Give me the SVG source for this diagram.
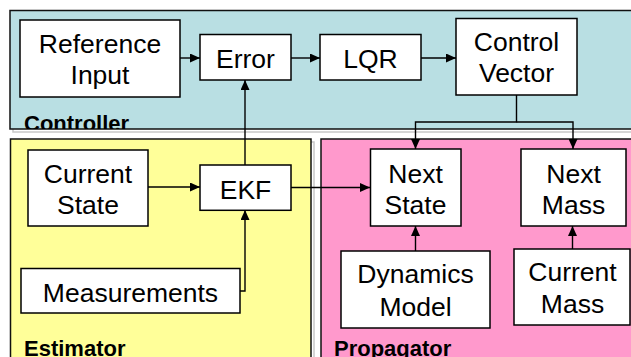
<svg xmlns="http://www.w3.org/2000/svg" width="631" height="357" viewBox="0 0 631 357">
<style>
.box{fill:#fff;stroke:#000;stroke-width:1.5}
.t{font-family:"Liberation Sans",Arial,sans-serif;font-size:26.5px;fill:#000;text-anchor:middle}
.lbl{font-family:"Liberation Sans",Arial,sans-serif;font-size:22px;font-weight:bold;fill:#000}
.panel{stroke:#111;stroke-width:1.5}
.shadow{fill:none;stroke:#c8c8c8;stroke-width:1.5}
.c{fill:none;stroke:#000;stroke-width:1.4}
</style>
<defs>
<marker id="ah" markerUnits="userSpaceOnUse" markerWidth="10" markerHeight="9" refX="10" refY="4.5" orient="auto">
<path d="M0,0 L10,4.5 L0,9 z" fill="#000"/>
</marker>
<clipPath id="clipCtrl"><rect x="0" y="0" width="631" height="129"/></clipPath>
</defs>
<rect width="631" height="357" fill="#fff"/>
<g id="panels">
<rect class="shadow" x="13" y="13" width="640" height="119"/>
<rect class="shadow" x="13.5" y="142" width="300.5" height="230"/>
<rect class="shadow" x="324" y="142" width="330" height="230"/>
<rect id="controller" class="panel" x="10" y="10.5" width="640" height="118.5" fill="#B9DFE3"/>
<rect id="estimator" class="panel" x="10.5" y="139" width="300.5" height="230" fill="#FFFF99"/>
<rect id="propagator" class="panel" x="321" y="139" width="330" height="230" fill="#FF99CC"/>
<text class="lbl" x="24" y="130.5" clip-path="url(#clipCtrl)">Controller</text>
<text class="lbl" x="24" y="356">Estimator</text>
<text class="lbl" x="334" y="355.5">Propagator</text>
</g>
<g id="connectors">
<path class="c" d="M180,58 H200" marker-end="url(#ah)"/>
<path class="c" d="M291,58 H320" marker-end="url(#ah)"/>
<path class="c" d="M421,58 H456" marker-end="url(#ah)"/>
<path class="c" d="M245,165 V80" marker-end="url(#ah)"/>
<path class="c" d="M240,291 H245 V210" marker-end="url(#ah)"/>
<path class="c" d="M148,187 H200" marker-end="url(#ah)"/>
<path class="c" d="M291,187.5 H370" marker-end="url(#ah)"/>
<path class="c" d="M516.5,95 V122 H415.5 V149" marker-end="url(#ah)"/>
<path class="c" d="M516.5,122 H573 V149" marker-end="url(#ah)"/>
<path class="c" d="M415.5,251 V226" marker-end="url(#ah)"/>
<path class="c" d="M572.5,249 V226" marker-end="url(#ah)"/>
</g>
<g id="reference-input"><rect class="box" x="20" y="20" width="160" height="77"/><text class="t" x="100" y="52.7">Reference</text><text class="t" x="100" y="84">Input</text></g>
<g id="error"><rect class="box" x="200" y="34.5" width="91" height="45.5"/><text class="t" x="245.5" y="67.5">Error</text></g>
<g id="lqr"><rect class="box" x="320" y="34.5" width="101" height="45.5"/><text class="t" x="370.5" y="67.5">LQR</text></g>
<g id="control-vector"><rect class="box" x="456" y="18.5" width="121" height="76.5"/><text class="t" x="516.5" y="50.7">Control</text><text class="t" x="516.5" y="81.7">Vector</text></g>
<g id="current-state"><rect class="box" x="28" y="150" width="120" height="76"/><text class="t" x="88" y="182.5">Current</text><text class="t" x="88" y="213.5">State</text></g>
<g id="ekf"><rect class="box" x="200" y="165" width="91" height="45.3"/><text class="t" x="245.5" y="198.8">EKF</text></g>
<g id="measurements"><rect class="box" x="21" y="268.5" width="219" height="44.5"/><text class="t" x="130.5" y="301.7">Measurements</text></g>
<g id="next-state"><rect class="box" x="370.5" y="149" width="90.5" height="77"/><text class="t" x="415.5" y="182.5">Next</text><text class="t" x="415.5" y="213.5">State</text></g>
<g id="next-mass"><rect class="box" x="521" y="149" width="105" height="77"/><text class="t" x="573.5" y="182.5">Next</text><text class="t" x="573.5" y="213.5">Mass</text></g>
<g id="dynamics-model"><rect class="box" x="341" y="251" width="149" height="77"/><text class="t" x="415.5" y="283">Dynamics</text><text class="t" x="415.5" y="315.7">Model</text></g>
<g id="current-mass"><rect class="box" x="514" y="249" width="116" height="76"/><text class="t" x="572.5" y="281">Current</text><text class="t" x="572.5" y="312.7">Mass</text></g>
</svg>
